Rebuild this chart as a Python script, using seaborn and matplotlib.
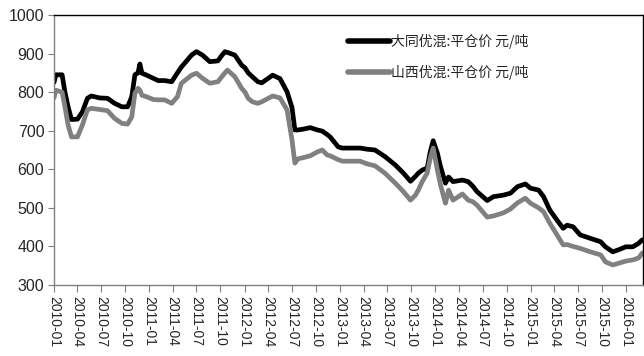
import matplotlib
matplotlib.use('Agg')
import matplotlib.pyplot as plt
import matplotlib.dates as mdates
import pandas as pd
import seaborn as sns

# weekly-ish readings of the two price series (元/吨)
dates = [
    '2010-01-01', '2010-01-08', '2010-02-01', '2010-02-12', '2010-02-24', '2010-03-09',
    '2010-04-01', '2010-04-20', '2010-05-09', '2010-05-24', '2010-06-25', '2010-07-25',
    '2010-08-21', '2010-09-18', '2010-10-10', '2010-10-26', '2010-11-07', '2010-11-19',
    '2010-11-26', '2010-12-04', '2010-12-22', '2011-01-16', '2011-02-04', '2011-03-01',
    '2011-03-28', '2011-04-19', '2011-05-04', '2011-06-12', '2011-07-01', '2011-07-24',
    '2011-08-21', '2011-09-21', '2011-10-06', '2011-10-18', '2011-10-28', '2011-11-25',
    '2011-12-21', '2012-01-03', '2012-01-15', '2012-01-31', '2012-02-21', '2012-03-07',
    '2012-04-18', '2012-05-16', '2012-06-12', '2012-07-01', '2012-07-12', '2012-07-24',
    '2012-08-12', '2012-09-09', '2012-10-06', '2012-10-25', '2012-11-13', '2012-11-24',
    '2012-12-25', '2013-01-10', '2013-03-19', '2013-04-15', '2013-05-15', '2013-06-22',
    '2013-08-01', '2013-09-01', '2013-09-28', '2013-10-16', '2013-10-28', '2013-11-12',
    '2013-12-01', '2013-12-13', '2013-12-24', '2014-01-09', '2014-01-21', '2014-02-09',
    '2014-02-21', '2014-03-10', '2014-04-15', '2014-05-07', '2014-05-25', '2014-06-10',
    '2014-07-19', '2014-08-12', '2014-09-19', '2014-10-16', '2014-11-12', '2014-12-12',
    '2015-01-01', '2015-02-01', '2015-02-20', '2015-03-16', '2015-04-17', '2015-05-06',
    '2015-05-21', '2015-06-13', '2015-07-10', '2015-08-18', '2015-09-27', '2015-10-15',
    '2015-11-12', '2015-12-03', '2016-01-01', '2016-01-28', '2016-02-19', '2016-03-04',
]
datong = [
    825, 845, 845, 800, 762, 729,
    730, 749, 784, 790, 785, 784,
    771, 762, 762, 788, 845, 850,
    873, 849, 844, 836, 830, 830,
    827, 850, 865, 896, 905, 896,
    879, 881, 895, 905, 903, 896,
    870, 863, 850, 840, 827, 824,
    844, 835, 801, 760, 702, 702,
    704, 708, 702, 699, 690, 684,
    658, 655, 655, 652, 650, 633,
    611, 590, 569, 581, 590, 598,
    603, 646, 674, 642, 607, 564,
    580, 568, 572, 568, 556, 542,
    519, 529, 533, 538, 555, 562,
    551, 546, 529, 494, 464, 447,
    455, 451, 430, 421, 412, 399,
    386, 391, 399, 399, 408, 417,
]
shanxi = [
    785, 805, 800, 762, 715, 684,
    684, 715, 754, 758, 755, 752,
    732, 719, 717, 736, 797, 810,
    805, 792, 788, 781, 780, 780,
    771, 788, 823, 844, 849, 836,
    823, 827, 840, 850, 857, 840,
    810, 800, 784, 775, 771, 775,
    790, 785, 754, 676, 616, 627,
    630, 635, 645, 650, 637, 635,
    625, 621, 621, 614, 609, 590,
    564, 542, 520, 532, 546, 568,
    590, 630, 655, 598, 560, 512,
    546, 520, 536, 520, 516, 507,
    476, 479, 487, 497, 513, 525,
    512, 500, 490, 460, 425, 404,
    405, 400, 395, 386, 378, 360,
    352, 356, 362, 365, 370, 383,
]
series_names = ['大同优混:平仓价 元/吨', '山西优混:平仓价 元/吨']
series_colors = ['#000000', '#808080']

df = pd.DataFrame({'date': pd.to_datetime(dates), series_names[0]: datong, series_names[1]: shanxi})
long = df.melt(id_vars='date', var_name='series', value_name='price')

sns.set_style('white')
plt.rcParams['font.family'] = ['Liberation Sans', 'Noto Sans CJK SC', 'DejaVu Sans']

fig = plt.figure(figsize=(6.44, 3.56), dpi=100)
ax = fig.add_axes([54 / 644, 1 - 285 / 356, 589 / 644, 270 / 356])

sns.lineplot(data=long, x='date', y='price', hue='series', hue_order=series_names,
             palette=dict(zip(series_names, series_colors)), linewidth=3.4, ax=ax)

ax.set_xlim(pd.Timestamp('2010-01-01'), pd.Timestamp('2016-03-07'))
ax.set_ylim(300, 1000)
ax.set_yticks(range(300, 1001, 100))
ax.xaxis.set_major_locator(mdates.MonthLocator(bymonth=[1, 4, 7, 10]))
ax.xaxis.set_major_formatter(mdates.DateFormatter('%Y-%m'))
ax.set_xlabel('')
ax.set_ylabel('')

for side in ['left', 'bottom']:
    ax.spines[side].set_color('#808080')
for side in ['top', 'right']:
    ax.spines[side].set_color('#000000')
for s in ax.spines.values():
    s.set_linewidth(1)

ax.tick_params(axis='x', direction='out', length=5, color='#808080', labelsize=10,
               labelrotation=-90, pad=3, bottom=True)
ax.tick_params(axis='y', direction='out', length=4, color='#808080', labelsize=11.5,
               pad=3, left=True)
for lbl in ax.get_xticklabels():
    lbl.set_horizontalalignment('center')

leg = ax.legend(loc='upper left', bbox_to_anchor=(0.478, 0.975), frameon=False,
                prop={'family': ['Noto Sans CJK SC', 'DejaVu Sans'], 'size': 10},
                handlelength=3.0, handletextpad=0.1, labelspacing=1.1)
for line in leg.get_lines():
    line.set_linewidth(4)

fig.savefig('out.png', dpi=100)
